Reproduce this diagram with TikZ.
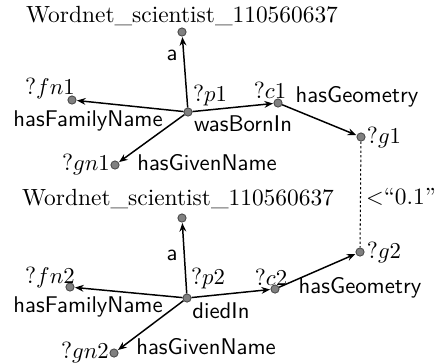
\documentclass[tikz,border=0pt]{standalone}
\usetikzlibrary{arrows.meta}
\begin{document}
\begin{tikzpicture}[x=0.44pt,y=-0.44pt,
  dot/.style={circle,inner sep=0pt,minimum size=3.6pt,fill=black!50,draw=black!70,line width=0.4pt},
  txt/.style={inner sep=0pt,font=\fontsize{10.3}{12}\selectfont},
  rel/.style={inner sep=0pt,font=\fontsize{10}{12}\selectfont\sffamily},
  arr/.style={-{Stealth[length=3.8pt,width=3pt]},line width=0.65pt,shorten >=0.2pt},
  sim/.style={line width=0.45pt,dash pattern=on 1pt off 1pt}]
\useasboundingbox (0,0) rectangle (436,362);
% top graph
\node[dot] (w1) at (182,32) {};
\node[dot] (p1) at (188,112) {};
\node[dot] (fn1) at (72,100) {};
\node[dot] (c1) at (278,103) {};
\node[dot] (g1) at (361,137) {};
\node[dot] (gn1) at (115,165) {};
\node[txt] (tw1) at (182,16) {Wordnet\_scientist\_110560637};
\node[txt] (tfn1) at (50,88) {?$fn1$};
\node[txt] (tp1) at (210,95) {?$p1$};
\node[txt] (tc1) at (270,90) {?$c1$};
\node[txt] (tg1) at (384,137) {?$g1$};
\node[txt] (tgn1) at (86,164) {?$gn1$};
\node[rel] (la1) at (172,55) {a};
\node[rel] (lfn1) at (88,121) {hasFamilyName};
\node[rel] (lb1) at (243,124) {wasBornIn};
\node[rel] (lgeo1) at (357,97) {hasGeometry};
\node[rel] (lgn1) at (207,163) {hasGivenName};
\draw[arr] (p1) -- (w1);
\draw[arr] (p1) -- (fn1);
\draw[arr] (p1) -- (c1);
\draw[arr] (p1) -- (gn1);
\draw[arr] (c1) -- (g1);
% bottom graph
\node[dot] (w2) at (182,218) {};
\node[dot] (p2) at (187,298) {};
\node[dot] (fn2) at (70,287) {};
\node[dot] (c2) at (275,289) {};
\node[dot] (g2) at (360,252) {};
\node[dot] (gn2) at (114,353) {};
\node[txt] (tw2) at (178,199) {Wordnet\_scientist\_110560637};
\node[txt] (tfn2) at (50,277) {?$fn2$};
\node[txt] (tp2) at (208,278) {?$p2$};
\node[txt] (tc2) at (271,277) {?$c2$};
\node[txt] (tg2) at (384,252) {?$g2$};
\node[txt] (tgn2) at (85,352) {?$gn2$};
\node[rel] (la2) at (172,255) {a};
\node[rel] (lfn2) at (88,307) {hasFamilyName};
\node[rel] (ld2) at (221,311) {diedIn};
\node[rel] (lgeo2) at (360,288) {hasGeometry};
\node[rel] (lgn2) at (206,347) {hasGivenName};
\draw[arr] (p2) -- (w2);
\draw[arr] (p2) -- (fn2);
\draw[arr] (p2) -- (c2);
\draw[arr] (p2) -- (gn2);
\draw[arr] (c2) -- (g2);
% similarity
\draw[sim] (g1) -- (g2);
\node[txt] (lt) at (401,197) {$<$``0.1''};
\end{tikzpicture}
\end{document}
